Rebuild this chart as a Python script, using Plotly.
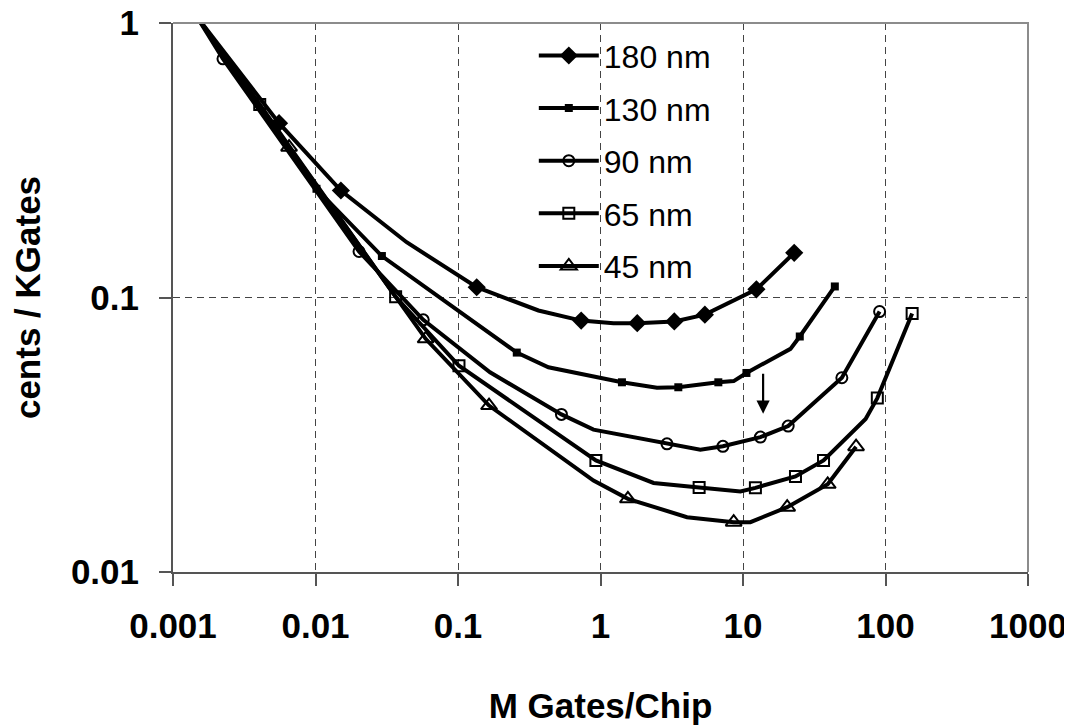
import math
import plotly.graph_objects as go

# ---- data ----
names = ["180 nm", "130 nm", "90 nm", "65 nm", "45 nm"]

x_180 = [0.00146, 0.00555, 0.01507, 0.0436, 0.1353, 0.3667, 0.732, 1.234, 1.811, 3.296, 5.40, 12.42, 22.87]
y_180 = [1.06, 0.4315, 0.2454, 0.159, 0.109, 0.0897, 0.0824, 0.0806, 0.0806, 0.0818, 0.0866, 0.1071, 0.1455]
m_180 = [0, 1, 1, 0, 1, 0, 1, 0, 1, 1, 1, 1, 1]

x_130 = [0.00146, 0.01016, 0.02923, 0.2585, 0.431, 1.414, 2.491, 3.516, 6.714, 8.604, 10.57, 21.53, 25.03, 44.1]
y_130 = [1.06, 0.2489, 0.1416, 0.0630, 0.0557, 0.0491, 0.0469, 0.0471, 0.0491, 0.0496, 0.0531, 0.0650, 0.0721, 0.1097]
m_130 = [0, 1, 1, 1, 0, 1, 0, 1, 1, 0, 1, 0, 1, 1]

x_90 = [0.00146, 0.002243, 0.02021, 0.05703, 0.1678, 0.532, 0.893, 2.928, 5.02, 7.224, 13.25, 20.75, 49.4, 90.9]
y_90 = [1.06, 0.7406, 0.1471, 0.0829, 0.0534, 0.0375, 0.0330, 0.0293, 0.0279, 0.0287, 0.0310, 0.0340, 0.0510, 0.0889]
m_90 = [0, 1, 1, 1, 0, 1, 0, 1, 0, 1, 1, 1, 1, 1]

x_65 = [0.00146, 0.004061, 0.0365, 0.1016, 0.9283, 2.357, 4.922, 9.59, 12.22, 23.35, 36.73, 72.5, 87.6, 153.8]
y_65 = [1.06, 0.5048, 0.1006, 0.0564, 0.0255, 0.0211, 0.0203, 0.01965, 0.02026, 0.0223, 0.0255, 0.0361, 0.0430, 0.0874]
m_65 = [0, 1, 1, 1, 1, 0, 1, 0, 1, 1, 1, 0, 1, 1]

x_45 = [0.00146, 0.006523, 0.0593, 0.1651, 0.893, 1.557, 4.048, 8.604, 11.27, 20.42, 39.31, 62.14]
y_45 = [1.06, 0.3528, 0.0707, 0.0404, 0.02154, 0.01848, 0.01584, 0.01519, 0.01519, 0.01722, 0.02087, 0.0286]
m_45 = [0, 1, 1, 1, 0, 1, 0, 1, 0, 1, 1, 1]

x_ticks = [0.001, 0.01, 0.1, 1, 10, 100, 1000]
x_ticktext = ["0.001", "0.01", "0.1", "1", "10", "100", "1000"]
y_ticks = [0.01, 0.1, 1]
y_ticktext = ["0.01", "0.1", "1"]

arrow_x = 13.84
arrow_y_from = 0.0534
arrow_y_to = 0.0377

# ---- styles ----
series = [
    (names[0], x_180, y_180, m_180, dict(symbol="diamond", size=14, color="black")),
    (names[1], x_130, y_130, m_130, dict(symbol="square", size=8, color="black")),
    (names[2], x_90, y_90, m_90, dict(symbol="circle-open", size=11, color="black", line=dict(width=2, color="black"))),
    (names[3], x_65, y_65, m_65, dict(symbol="square-open", size=11, color="black", line=dict(width=2, color="black"))),
    (names[4], x_45, y_45, m_45, dict(symbol="triangle-up-open", size=14, color="black", line=dict(width=2, color="black"))),
]

FONT = "Liberation Sans, Arial, sans-serif"
fig = go.Figure()
for i, (nm, xs, ys, ms, mk) in enumerate(series):
    fig.add_trace(go.Scatter(x=xs, y=ys, mode="lines", line=dict(color="black", width=4),
                             showlegend=False, hoverinfo="skip"))
    mx = [x for x, f in zip(xs, ms) if f]
    my = [y for y, f in zip(ys, ms) if f]
    fig.add_trace(go.Scatter(x=mx, y=my, mode="markers", marker=mk, showlegend=False, name=nm))
    fig.add_trace(go.Scatter(x=[None], y=[None], mode="lines+markers", name=nm,
                             line=dict(color="black", width=4), marker=mk,
                             legendgroup=nm, showlegend=True))

axis_common = dict(
    type="log", showline=True, linecolor="#555", linewidth=2,
    ticks="outside", ticklen=12, tickcolor="#555", tickwidth=1.5,
    showgrid=True, gridcolor="#444", gridwidth=1, griddash="7px,5px",
    zeroline=False, automargin=False, ticklabeloverflow="allow",
    tickfont=dict(family=FONT, size=35, color="black", weight="bold"),
)

fig.update_xaxes(range=[-3, 3], tickvals=x_ticks, ticktext=x_ticktext,
                 ticklabelstandoff=10,
                 title=dict(text="M Gates/Chip", font=dict(family=FONT, size=35, color="black", weight="bold"), standoff=49),
                 **axis_common)
fig.update_yaxes(range=[-2, 0], tickvals=y_ticks, ticktext=y_ticktext,
                 ticklabelstandoff=13,
                 title=dict(text="cents / KGates", font=dict(family=FONT, size=35, color="black", weight="bold"), standoff=20),
                 **axis_common)

fig.add_shape(type="path", xref="paper", yref="paper", path="M 0 1 L 1 1 L 1 0",
              line=dict(color="#8c8c8c", width=2))

fig.add_annotation(x=math.log10(arrow_x), y=math.log10(arrow_y_to), ax=math.log10(arrow_x),
                   ay=math.log10(arrow_y_from), xref="x", yref="y", axref="x", ayref="y",
                   showarrow=True, arrowhead=2, arrowsize=1.2, arrowwidth=2.2, arrowcolor="black", text="")

fig.update_layout(
    width=1072, height=726,
    margin=dict(l=165, r=52, t=15, b=162),
    paper_bgcolor="white", plot_bgcolor="white",
    legend=dict(x=0.422, y=0.9905, xanchor="left", yanchor="top", bgcolor="rgba(0,0,0,0)",
                font=dict(family=FONT, size=32, color="black"), tracegroupgap=8, itemwidth=60),
    showlegend=True,
)

fig.write_html("out.html")
